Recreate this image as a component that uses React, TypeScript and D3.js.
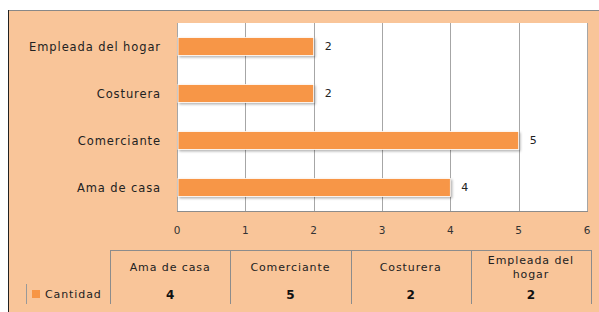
import {useEffect, useRef} from 'react'
import * as d3 from 'd3'

const categories = ['Ama de casa', 'Comerciante', 'Costurera', 'Empleada del hogar']
const values = [4, 5, 2, 2]
const xTicks = [0, 1, 2, 3, 4, 5, 6]
const seriesName = 'Cantidad'

const W = 599
const H = 312
const ORANGE = '#F79646'
const PEACH = '#F9C599'
const FONT = '"DejaVu Sans", sans-serif'
const LS = 0.9

const App = () => {
  const ref = useRef<SVGSVGElement>(null)

  useEffect(() => {
    if (!ref.current) return
    const svg = d3.select(ref.current)
    svg.selectAll('*').remove()

    const plot = {left: 177, right: 587, top: 23, bottom: 211}

    //background frame
    svg.append('rect').attr('x', 8).attr('y', 10).attr('width', W - 8).attr('height', H - 10).attr('fill', PEACH)
    svg.append('line').attr('x1', 8).attr('x2', W).attr('y1', 10.5).attr('y2', 10.5).attr('stroke', '#888')
    svg.append('line').attr('x1', 8.5).attr('x2', 8.5).attr('y1', 10).attr('y2', H).attr('stroke', '#222')

    const defs = svg.append('defs')
    const f = defs.append('filter').attr('id', 'sh').attr('x', '-5%').attr('y', '-20%').attr('width', '120%').attr('height', '160%')
    f.append('feDropShadow').attr('dx', 1.5).attr('dy', 1.5).attr('stdDeviation', 1).attr('flood-color', '#000').attr('flood-opacity', 0.3)

    //plot area
    svg.append('rect')
      .attr('x', plot.left).attr('y', plot.top)
      .attr('width', plot.right - plot.left).attr('height', plot.bottom - plot.top)
      .attr('fill', 'white')

    const x = d3.scaleLinear().domain([0, 6]).range([plot.left, plot.right])
    const y = d3.scaleBand<string>()
      .domain(categories.slice().reverse())
      .range([plot.top, plot.bottom])
      .paddingInner(0.62).paddingOuter(0.31)

    //gridlines
    svg.append('g').selectAll('line').data(xTicks).join('line')
      .attr('x1', d => Math.round(x(d)) + 0.5).attr('x2', d => Math.round(x(d)) + 0.5)
      .attr('y1', plot.top).attr('y2', plot.bottom)
      .attr('stroke', '#A6A6A6')
    svg.append('line')
      .attr('x1', plot.left).attr('x2', plot.right + 1)
      .attr('y1', plot.bottom + 0.5).attr('y2', plot.bottom + 0.5)
      .attr('stroke', '#8C8C8C')

    //bars
    svg.append('g').selectAll('rect').data(categories).join('rect')
      .attr('x', plot.left + 1)
      .attr('y', d => y(d)!)
      .attr('width', (d, i) => x(values[i]) - plot.left - 1)
      .attr('height', y.bandwidth())
      .attr('fill', ORANGE)
      .attr('stroke', 'white').attr('stroke-width', 0.8)
      .attr('filter', 'url(#sh)')

    //value labels
    svg.append('g').selectAll('text').data(categories).join('text')
      .attr('x', (d, i) => x(values[i]) + 11)
      .attr('y', d => y(d)! + y.bandwidth() / 2)
      .attr('dy', '0.35em')
      .attr('font-family', FONT).attr('font-size', 11).attr('fill', '#222')
      .text((d, i) => values[i])

    //category labels
    svg.append('g').selectAll('text').data(categories).join('text')
      .attr('x', 161)
      .attr('y', d => y(d)! + y.bandwidth() / 2)
      .attr('dy', '0.35em')
      .attr('text-anchor', 'end')
      .attr('letter-spacing', LS)
      .attr('font-family', FONT).attr('font-size', 11.5).attr('fill', '#222')
      .text(d => d)

    //x tick labels
    svg.append('g').selectAll('text').data(xTicks).join('text')
      .attr('x', d => x(d))
      .attr('y', 230).attr('dy', '0.35em')
      .attr('text-anchor', 'middle')
      .attr('font-family', FONT).attr('font-size', 10.5).attr('fill', '#333')
      .text(d => d)

    //data table
    const tbl = {left: 110, right: 591, top: 250, bottom: 304}
    const col = d3.scaleBand<string>().domain(categories).range([tbl.left, tbl.right])
    const tg = svg.append('g').attr('stroke', '#8C8C8C')
    tg.append('line').attr('x1', tbl.left).attr('x2', tbl.right).attr('y1', tbl.top + 0.5).attr('y2', tbl.top + 0.5)
    tg.selectAll('line.v').data([...categories.map(c => col(c)!), tbl.right]).join('line')
      .attr('class', 'v')
      .attr('x1', d => Math.round(d) + 0.5).attr('x2', d => Math.round(d) + 0.5)
      .attr('y1', tbl.top).attr('y2', tbl.bottom)
    svg.append('line').attr('x1', 26.5).attr('x2', 26.5).attr('y1', 284).attr('y2', tbl.bottom).attr('stroke', '#999')

    categories.forEach((c, i) => {
      const cx = col(c)! + col.bandwidth() / 2
      const words = c.split(' ')
      const lines = c.length > 14 ? [words.slice(0, 2).join(' '), words.slice(2).join(' ')] : [c]
      lines.forEach((l, j) => {
        svg.append('text')
          .attr('x', cx).attr('y', lines.length > 1 ? 260 + j * 14 : 267).attr('dy', '0.35em')
          .attr('text-anchor', 'middle')
          .attr('letter-spacing', LS)
          .attr('font-family', FONT).attr('font-size', 11).attr('fill', '#222')
          .text(l)
      })
      svg.append('text')
        .attr('x', cx).attr('y', 295).attr('dy', '0.35em')
        .attr('text-anchor', 'middle')
        .attr('font-family', FONT).attr('font-size', 12).attr('font-weight', 600).attr('fill', '#111')
        .text(values[i])
    })

    //legend key
    svg.append('rect').attr('x', 32).attr('y', 290).attr('width', 8).attr('height', 8).attr('fill', ORANGE)
    svg.append('text')
      .attr('x', 45).attr('y', 294).attr('dy', '0.35em')
      .attr('letter-spacing', LS)
      .attr('font-family', FONT).attr('font-size', 11).attr('fill', '#222')
      .text(seriesName)
  }, [])

  return (
    <svg ref={ref} width={W} height={H} style={{position: 'fixed', left: 0, top: 0, background: 'white'}} />
  )
}
export default App
